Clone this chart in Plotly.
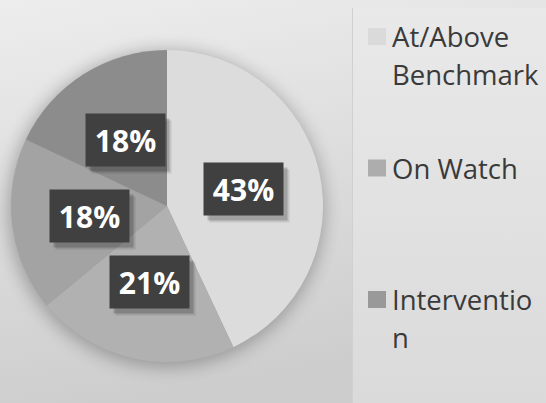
import base64
import math
import plotly.graph_objects as go

# ---- data ----
categories = ["At/Above Benchmark", "On Watch", "Intervention", "Urgent Intervention"]
values = [43, 21, 18, 18]
slice_colors = ["#dcdcdc", "#b1b1b1", "#a3a3a3", "#8c8c8c"]
legend_lines = [["At/Above", "Benchmark"], ["On Watch"], ["Interventio", "n"]]
legend_colors = ["#dadada", "#adadad", "#999999"]

W, H = 546, 403
cx, cy, r = 167, 206, 156  # pie centre / radius in px

# ---- background (gradient, pie shadow, legend panel) ----
svg = f"""<svg xmlns='http://www.w3.org/2000/svg' width='{W}' height='{H}' viewBox='0 0 {W} {H}'>
<defs>
<linearGradient id='g' x1='0' y1='0' x2='0.25' y2='1'>
<stop offset='0' stop-color='#ededed'/><stop offset='1' stop-color='#cdcdcd'/></linearGradient>
<linearGradient id='p' x1='0' y1='0' x2='0' y2='1'>
<stop offset='0' stop-color='#e9e9e9'/><stop offset='1' stop-color='#dadada'/></linearGradient>
<filter id='b' x='-50%' y='-50%' width='200%' height='200%'><feGaussianBlur stdDeviation='9'/></filter>
</defs>
<rect width='{W}' height='{H}' fill='url(#g)'/>
<circle cx='{cx-1}' cy='{cy+3}' r='{r+2}' fill='#000' opacity='0.28' filter='url(#b)'/>
<rect x='352' y='8' width='{W-352}' height='{H-8}' fill='url(#p)'/>
<rect x='352' y='8' width='1' height='{H-8}' fill='#d0d0d0'/>
</svg>"""
src = "data:image/svg+xml;base64," + base64.b64encode(svg.encode()).decode()

fig = go.Figure()
fig.add_trace(go.Pie(
    labels=categories, values=values, sort=False, direction="clockwise", rotation=0,
    marker=dict(colors=slice_colors, line=dict(width=0)),
    textinfo="none", hoverinfo="skip", showlegend=False,
    domain=dict(x=[(cx - r) / W, (cx + r) / W], y=[1 - (cy + r) / H, 1 - (cy - r) / H]),
))

annotations = []
total = sum(values)
cum = 0
for v in values:
    mid = (cum + v / 2) / total * 2 * math.pi
    cum += v
    px = cx + 0.5 * r * math.sin(mid)
    py = cy - 0.5 * r * math.cos(mid)
    xp, yp = px / W, 1 - py / H
    pct = f"{round(v / total * 100)}%"
    for dx, dy, a in [(6, -7, 0.10), (4, -5, 0.18)]:
        annotations.append(dict(x=xp, y=yp, xref="paper", yref="paper", text=" ",
                                xanchor="center", yanchor="middle",
                                showarrow=False, width=79, height=52, borderpad=0,
                                bgcolor=f"rgba(0,0,0,{a})", xshift=dx, yshift=dy,
                                font=dict(size=30)))
    annotations.append(dict(x=xp, y=yp, xref="paper", yref="paper", text=f"<b>{pct}</b>",
                            xanchor="center", yanchor="middle",
                            showarrow=False, width=79, height=52, borderpad=0,
                            bgcolor="#404040",
                            font=dict(family="Open Sans", size=30, color="#ffffff")))

shapes = []
entry_tops = [26, 157.5, 289]
line_gap = 38
for i, lines in enumerate(legend_lines):
    top = entry_tops[i]
    shapes.append(dict(type="rect", xref="paper", yref="paper",
                       x0=368 / W, x1=386 / W, y0=1 - (top + 2) / H, y1=1 - (top + 19) / H,
                       fillcolor=legend_colors[i], line=dict(width=0)))
    for j, ln in enumerate(lines):
        annotations.append(dict(x=391 / W, y=1 - (top - 9 + j * line_gap) / H,
                                xref="paper", yref="paper", text=ln, showarrow=False,
                                xanchor="left", yanchor="top", borderpad=0,
                                font=dict(family="Open Sans", size=27.5, color="#3a3a3a")))

fig.update_layout(
    width=W, height=H, margin=dict(l=0, r=0, t=0, b=0),
    paper_bgcolor="#e0e0e0", plot_bgcolor="rgba(0,0,0,0)",
    images=[dict(source=src, xref="paper", yref="paper", x=0, y=1, sizex=1, sizey=1,
                 xanchor="left", yanchor="top", sizing="stretch", layer="below")],
    annotations=annotations, shapes=shapes,
)
fig.write_html("out.html", config={"displayModeBar": False},
               post_script="document.body.style.margin='0';")
